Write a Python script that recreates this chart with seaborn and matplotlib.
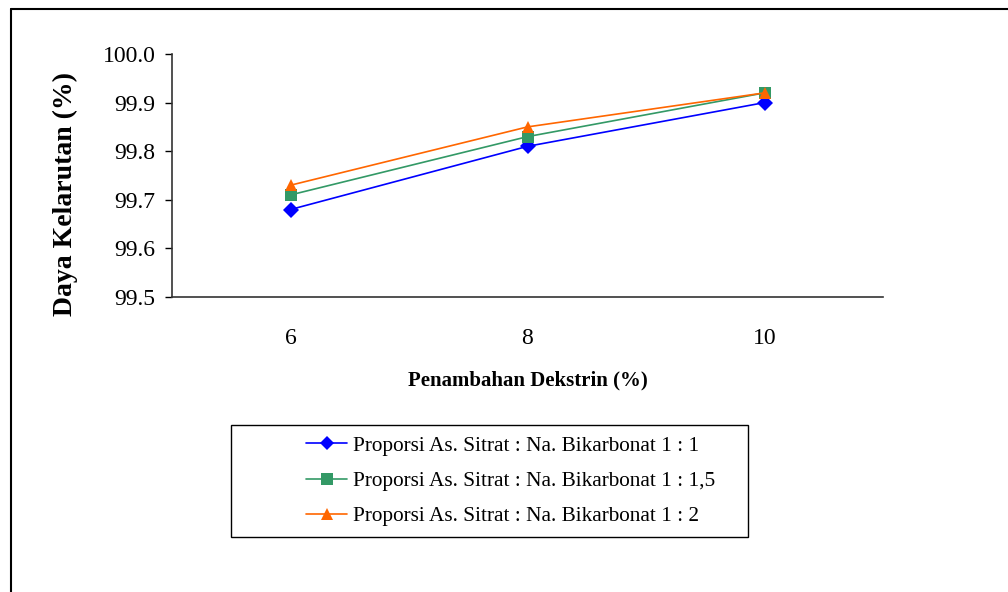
import pandas as pd
import matplotlib.pyplot as plt
import seaborn as sns
from matplotlib.lines import Line2D
from matplotlib.patches import Rectangle

# data
dekstrin = ["6", "8", "10"]
seri = [
    "Proporsi As. Sitrat : Na. Bikarbonat 1 : 1",
    "Proporsi As. Sitrat : Na. Bikarbonat 1 : 1,5",
    "Proporsi As. Sitrat : Na. Bikarbonat 1 : 2",
]
kelarutan_1_1 = [99.68, 99.81, 99.90]
kelarutan_1_15 = [99.71, 99.83, 99.92]
kelarutan_1_2 = [99.73, 99.85, 99.92]

warna = ["#0000FF", "#339966", "#FF6600"]
penanda = ["D", "s", "^"]

rows = []
for nama, nilai in zip(seri, [kelarutan_1_1, kelarutan_1_15, kelarutan_1_2]):
    for i, (d, v) in enumerate(zip(dekstrin, nilai)):
        rows.append({"pos": i, "dekstrin": d, "seri": nama, "kelarutan": v})
df = pd.DataFrame(rows)

sns.set_style("white")
plt.rcParams['font.family'] = ['Liberation Serif', 'DejaVu Serif']
plt.rcParams['text.color'] = 'black'
plt.rcParams['axes.labelcolor'] = 'black'
plt.rcParams['xtick.color'] = 'black'
plt.rcParams['ytick.color'] = 'black'

fig = plt.figure(figsize=(10.08, 5.92), dpi=100)
ax = fig.add_axes([172 / 1008, 1 - 297 / 592, (883 - 172) / 1008, (297 - 54) / 592])

sns.lineplot(data=df, x="pos", y="kelarutan", hue="seri", style="seri",
             palette=warna, markers=penanda, dashes=False, markersize=8,
             markeredgewidth=0, linewidth=1.2, ax=ax, legend=False)

ax.set_xlim(-0.5, 2.5)
ax.set_ylim(99.5, 100.0)
ax.set_xticks(range(len(dekstrin)))
ax.set_xticklabels(dekstrin)
ax.set_yticks([99.5, 99.6, 99.7, 99.8, 99.9, 100.0])
ax.yaxis.set_major_formatter(plt.FuncFormatter(lambda v, p: f"{v:.1f}"))
ax.tick_params(axis="y", which="major", length=5, width=1, direction="out",
               left=True, labelsize=17, pad=7)
ax.tick_params(axis="x", length=0, labelsize=17, pad=22)
for s in ["top", "right"]:
    ax.spines[s].set_visible(False)
for s in ["left", "bottom"]:
    ax.spines[s].set_color("#333333")
    ax.spines[s].set_linewidth(1.2)

ax.set_xlabel("Penambahan Dekstrin (%)", fontsize=15, fontweight="bold", labelpad=16)
ax.set_ylabel("Daya Kelarutan (%)", fontsize=20, fontweight="bold")
ax.yaxis.set_label_coords((78 - 172) / 711, (297 - 194) / 243)

handles = [Line2D([0], [0], color=c, marker=m, markersize=8 if m != "D" else 7,
                  markeredgewidth=0, linewidth=1.2)
           for c, m in zip(warna, penanda)]
leg = fig.legend(handles, seri, loc="center left",
                 bbox_to_anchor=(306 / 1008, 1 - 481 / 592), frameon=False,
                 fontsize=15.3, handlelength=1.95, handletextpad=0.25,
                 labelspacing=0.72, borderpad=0, borderaxespad=0)

# kotak legenda
fig.add_artist(Rectangle((231 / 1008, 1 - 537 / 592), (748 - 231) / 1008, (537 - 425) / 592,
                         transform=fig.transFigure, fill=False, edgecolor="black", lw=1.0))

# bingkai luar
fig.add_artist(Line2D([11 / 1008, 11 / 1008], [0, 1 - 9 / 592], color="black", lw=1.5))
fig.add_artist(Line2D([11 / 1008, 1], [1 - 9 / 592, 1 - 9 / 592], color="black", lw=1.5))

fig.savefig("out.png", dpi=100)
